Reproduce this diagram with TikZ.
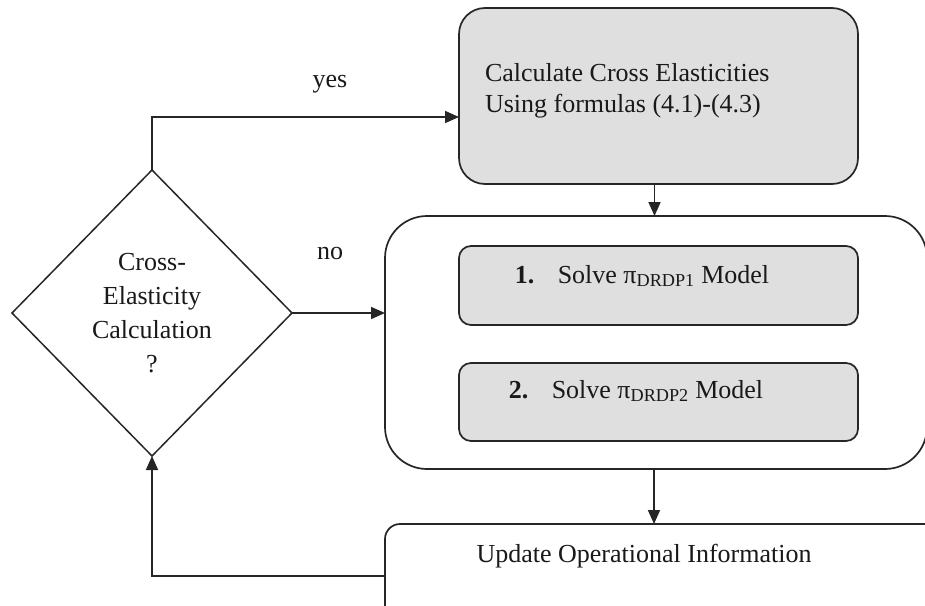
\documentclass[tikz,border=0pt]{standalone}
\usepackage{fontspec}
\setmainfont{Liberation Serif}
\usetikzlibrary{shapes.geometric,arrows.meta}
\tikzset{
  every node/.style={inner sep=0pt, outer sep=0pt},
  greybox/.style={draw=black!85, line width=1.7pt, fill=gray!25, rounded corners=#1},
  greybox/.default=12pt,
  plainbox/.style={draw=black!85, line width=1.7pt, fill=white, rounded corners=#1},
  plainbox/.default=15pt,
  decision/.style={draw=black!85, line width=1.5pt, diamond, fill=white},
  arr/.style={line width=1.7pt, draw=black!85, -{Triangle[length=14pt,width=12pt]}},
  txt/.style={font=\fontsize{26}{30}\selectfont, anchor=base, text=black!90},
}
\begin{document}
\begin{tikzpicture}[x=1pt,y=-1pt]
  \useasboundingbox (0,0) rectangle (925,605);
  \clip (0,0) rectangle (925,605);

  % boxes
  \node[greybox=26pt, minimum width=399pt, minimum height=176pt] (calc) at (658.5,96) {};
  \node[plainbox=42pt, minimum width=542pt, minimum height=253pt] (cont) at (656,342.5) {};
  \node[greybox, minimum width=399pt, minimum height=79pt] (sol1) at (658.5,285.5) {};
  \node[greybox, minimum width=399pt, minimum height=78pt] (sol2) at (658.5,402) {};
  \node[plainbox, minimum width=575pt, minimum height=104pt] (upd) at (672.5,576) {};
  \node[decision, minimum width=280pt, minimum height=286pt] (dec) at (152,313) {};

  % texts
  \node[txt, anchor=base west] (calct1) at (485,81) {Calculate Cross Elasticities};
  \node[txt, anchor=base west] (calct2) at (485,112) {Using formulas (4.1)-(4.3)};
  \node[txt] (sol1t) at (642,283) {\textbf{1.}\hspace{0.9em}Solve π\textsubscript{DRDP1} Model};
  \node[txt] (sol2t) at (636,398) {\textbf{2.}\hspace{0.9em}Solve π\textsubscript{DRDP2} Model};
  \node[txt] (updt) at (644,562) {Update Operational Information};
  \node[txt] (dect1) at (152,270) {Cross-};
  \node[txt] (dect2) at (152,304) {Elasticity};
  \node[txt] (dect3) at (152,338) {Calculation};
  \node[txt] (dect4) at (152,372) {?};
  \node[txt] (yes) at (330,87) {yes};
  \node[txt] (no) at (330,259) {no};

  % connectors
  \draw[arr] (dec.north) |- ([yshift=-21pt]calc.west);
  \draw[arr] (dec.east) -- (dec.east -| cont.west);
  \draw[arr] ([xshift=-4pt]calc.south) -- ([xshift=-4pt]calc.south |- cont.north);
  \draw[arr] ([xshift=-2pt]cont.south) -- ([xshift=-2pt]cont.south |- upd.north);
  \draw[arr] (upd.west) -| (dec.south);
\end{tikzpicture}
\end{document}
